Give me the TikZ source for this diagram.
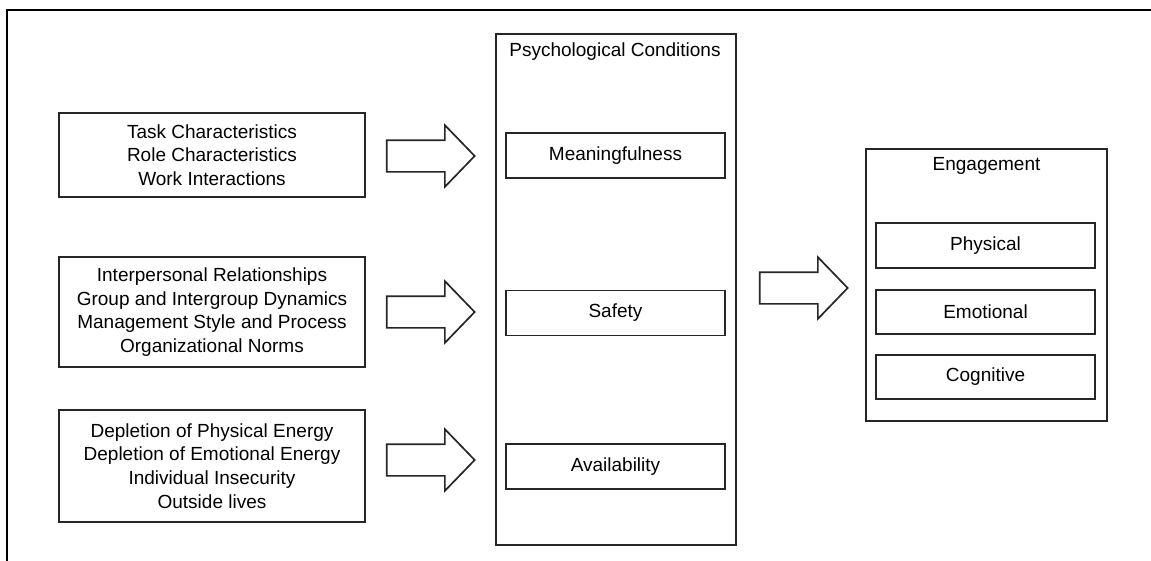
\documentclass[tikz,border=0pt]{standalone}
\usepackage{fontspec}
\setmainfont{Liberation Sans}
\usetikzlibrary{shapes.arrows}

\begin{document}
\begin{tikzpicture}[x=1pt,y=-1pt,
    every node/.style={font=\fontsize{19}{23.6}\selectfont},
    box/.style={draw=black!85,line width=1.7pt,align=center,inner sep=0pt},
    blk/.style={single arrow,draw=black!85,line width=1.7pt,inner xsep=0pt,
      inner ysep=15pt,minimum height=88pt,single arrow head extend=15pt,
      single arrow tip angle=92}]
      \useasboundingbox (0,0) rectangle (1151,560);
      \begin{scope}
        \clip (0,0) rectangle (1151,560);
        \draw[line width=2.2pt] (7,10) rectangle (1180,590);
      \end{scope}
      % antecedents
      \draw
        (212,155) node[box,minimum width=306pt,minimum height=84pt] (task)
          {Task Characteristics\\Role Characteristics\\Work Interactions}
        (212,312) node[box,minimum width=306pt,minimum height=110pt] (rel)
          {Interpersonal Relationships\\Group and Intergroup Dynamics\\Management Style and Process\\Organizational Norms}
        (212,466) node[box,minimum width=306pt,minimum height=112pt] (depl)
          {Depletion of Physical Energy\\Depletion of Emotional Energy\\Individual Insecurity\\Outside lives};
      % psychological conditions
      \draw
        (616,289.5) node[box,minimum width=240pt,minimum height=511pt] (psy){}
        (615,52) node[inner sep=0pt] (psyt){Psychological Conditions}
        (615.5,155.5) node[box,minimum width=219pt,minimum height=45pt] (mean){Meaningfulness}
        (615.5,313) node[box,minimum width=219pt,minimum height=45pt] (safe){Safety}
        (615.5,466.5) node[box,minimum width=219pt,minimum height=45pt] (avail){Availability};
      % engagement
      \draw
        (986.5,285) node[box,minimum width=241pt,minimum height=272pt] (eng){}
        (986.5,166) node[inner sep=0pt] (engt){Engagement}
        (985.5,245.5) node[box,minimum width=219pt,minimum height=45pt] (phys){Physical}
        (985.5,312) node[box,minimum width=219pt,minimum height=44pt] (emo){Emotional}
        (985.5,377) node[box,minimum width=219pt,minimum height=44pt] (cog){Cognitive};
      \begin{scope}[every node/.style={blk}]
        \node (a1) at (423,156) {};
        \node (a2) at (423,312) {};
        \node (a3) at (423,460) {};
        \node (a4) at (796,288) {};
      \end{scope}
    \end{tikzpicture}
\end{document}
